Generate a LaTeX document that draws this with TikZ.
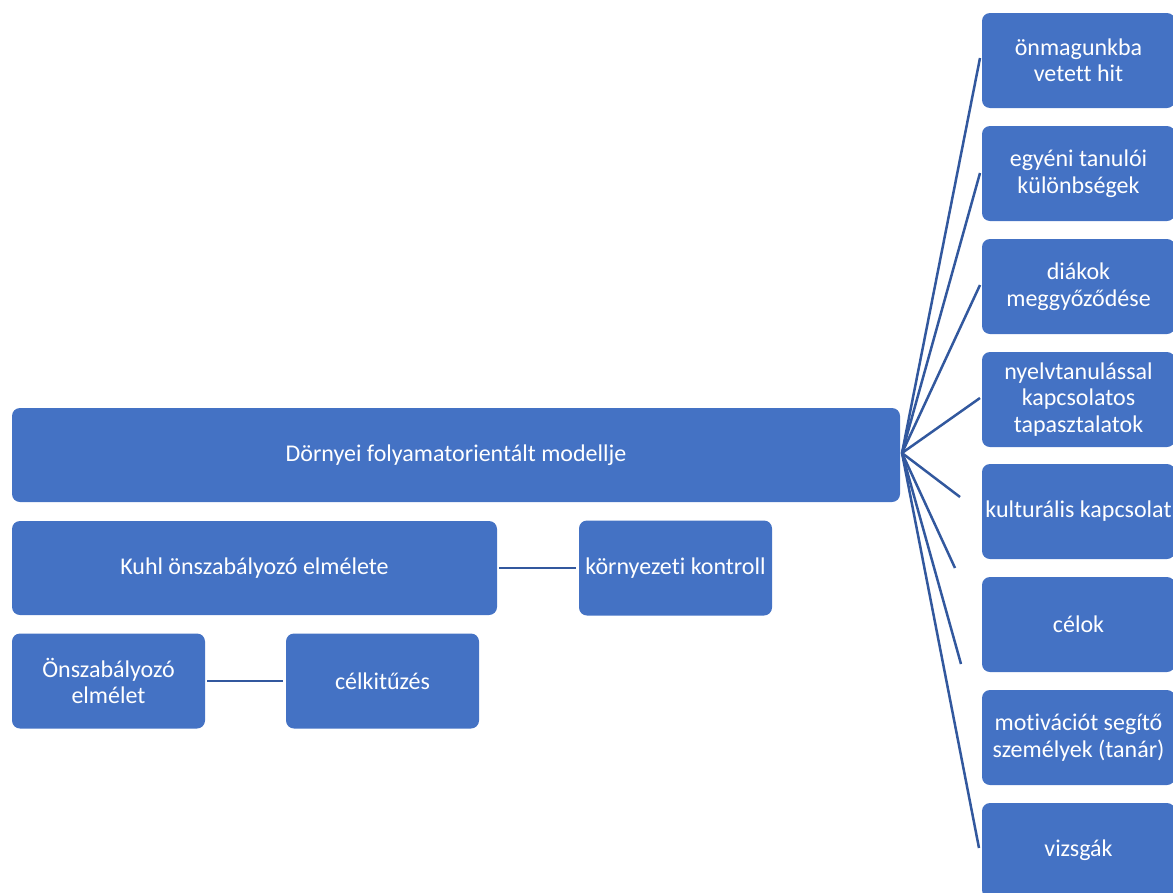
\documentclass[tikz,border=0pt]{standalone}
\usepackage{fontspec}
\setmainfont{Carlito}[Ligatures={NoCommon}]
\definecolor{boxblue}{RGB}{68,114,196}
\definecolor{lineblue}{RGB}{50,88,158}
\begin{document}
\begin{tikzpicture}[x=1pt,y=-1pt,
  box/.style={fill=boxblue, draw=none, rounded corners=8pt, text=white, align=center,
    font=\fontsize{24}{26.5}\selectfont, inner sep=0pt},
  sbox/.style={box, minimum width=193pt, minimum height=95pt},
  link/.style={draw=lineblue, line width=2.5pt}]
\useasboundingbox (0,0) rectangle (1173,892);
\clip (0,0) rectangle (1173,892);
\node[box, minimum width=888pt, minimum height=94pt] (main) at (456,455) {Dörnyei folyamatorientált modellje};
\node[box, minimum width=485pt, minimum height=94pt] (kuhl) at (254.5,568) {Kuhl önszabályozó elmélete};
\node[sbox] (korny) at (675.5,568) {környezeti kontroll};
\node[sbox] (onsz) at (108.5,681) {Önszabályozó\\elmélet};
\node[sbox] (celk) at (382.5,681) {célkitűzés};
\node[sbox] (r1) at (1078.5,60.5) {önmagunkba\\vetett hit};
\node[sbox] (r2) at (1078.5,173.5) {egyéni tanulói\\különbségek};
\node[sbox] (r3) at (1078.5,286.5) {diákok\\meggyőződése};
\node[sbox] (r4) at (1078.5,399.5) {nyelvtanulással\\kapcsolatos\\tapasztalatok};
\node[sbox] (r5) at (1078.5,511.5) {kulturális kapcsolat};
\node[sbox] (r6) at (1078.5,624.5) {célok};
\node[sbox] (r7) at (1078.5,737.5) {motivációt segítő\\személyek (tanár)};
\node[sbox] (r8) at (1078.5,850.5) {vizsgák};
\coordinate (hub) at (902,453);
\coordinate (e1) at (980,58);
\coordinate (e2) at (980,173);
\coordinate (e3) at (980,285);
\coordinate (e4) at (980,398);
\coordinate (e5) at (960,497);
\coordinate (e6) at (955,568);
\coordinate (e7) at (961,664);
\coordinate (e8) at (979,848);
\foreach \i in {1,...,8} \draw[link] (hub) -- (e\i);
\draw[link, shorten <=2pt, shorten >=3pt] (kuhl.east) -- (korny.west);
\draw[link, shorten <=2pt, shorten >=3pt] (onsz.east) -- (celk.west);
\end{tikzpicture}
\end{document}
